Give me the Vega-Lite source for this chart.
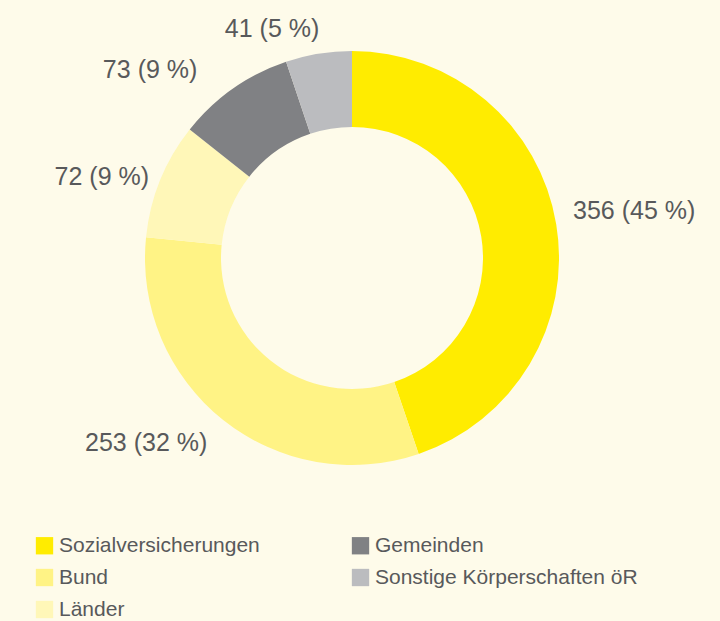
{
  "$schema": "https://vega.github.io/schema/vega-lite/v6.json",
  "width": 704,
  "height": 516,
  "padding": {"left": 0, "top": 0, "right": 16, "bottom": 105},
  "autosize": {"type": "none"},
  "background": "#fefbea",
  "config": {"view": {"stroke": null}, "font": "Liberation Sans"},
  "data": {
    "values": [
      {"kategorie": "Sozialversicherungen", "wert": 356, "ordnung": 1, "label": "356 (45 %)"},
      {"kategorie": "Bund", "wert": 253, "ordnung": 2, "label": "253 (32 %)"},
      {"kategorie": "Länder", "wert": 72, "ordnung": 3, "label": "72 (9 %)"},
      {"kategorie": "Gemeinden", "wert": 73, "ordnung": 4, "label": "73 (9 %)"},
      {"kategorie": "Sonstige Körperschaften öR", "wert": 41, "ordnung": 5, "label": "41 (5 %)"}
    ]
  },
  "encoding": {
    "theta": {"field": "wert", "type": "quantitative", "stack": true},
    "order": {"field": "ordnung", "type": "quantitative"}
  },
  "layer": [
    {
      "mark": {"type": "arc", "outerRadius": 207, "innerRadius": 131},
      "encoding": {
        "color": {
          "field": "kategorie",
          "type": "nominal",
          "scale": {
            "domain": ["Sozialversicherungen", "Bund", "Länder", "Gemeinden", "Sonstige Körperschaften öR"],
            "range": ["#ffec00", "#fff385", "#fff7b8", "#808184", "#bbbcbf"]
          },
          "legend": {
            "title": null,
            "orient": "none",
            "legendX": 34,
            "legendY": 535,
            "padding": 0,
            "columns": 2,
            "columnPadding": 90,
            "rowPadding": 10,
            "symbolType": "square",
            "symbolSize": 300,
            "symbolStrokeWidth": 0,
            "symbolOffset": 0,
            "labelFontSize": 21,
            "labelColor": "#58595b",
            "labelOffset": 4,
            "labelLimit": 400
          }
        }
      }
    },
    {
      "mark": {"type": "text", "radius": 286, "fontSize": 25, "color": "#58595b", "align": "center", "baseline": "middle"},
      "encoding": {"text": {"condition": {"test": "datum.kategorie === 'Sozialversicherungen'", "field": "label"}, "value": ""}}
    },
    {
      "mark": {"type": "text", "radius": 277, "thetaOffset": 0.166, "fontSize": 25, "color": "#58595b", "align": "center", "baseline": "middle"},
      "encoding": {"text": {"condition": {"test": "datum.kategorie === 'Bund'", "field": "label"}, "value": ""}}
    },
    {
      "mark": {"type": "text", "radius": 263, "thetaOffset": -0.072, "fontSize": 25, "color": "#58595b", "align": "center", "baseline": "middle"},
      "encoding": {"text": {"condition": {"test": "datum.kategorie === 'Länder'", "field": "label"}, "value": ""}}
    },
    {
      "mark": {"type": "text", "radius": 276, "thetaOffset": -0.208, "fontSize": 25, "color": "#58595b", "align": "center", "baseline": "middle"},
      "encoding": {"text": {"condition": {"test": "datum.kategorie === 'Gemeinden'", "field": "label"}, "value": ""}}
    },
    {
      "mark": {"type": "text", "radius": 243, "thetaOffset": -0.173, "fontSize": 25, "color": "#58595b", "align": "center", "baseline": "middle"},
      "encoding": {"text": {"condition": {"test": "datum.kategorie === 'Sonstige Körperschaften öR'", "field": "label"}, "value": ""}}
    }
  ]
}
